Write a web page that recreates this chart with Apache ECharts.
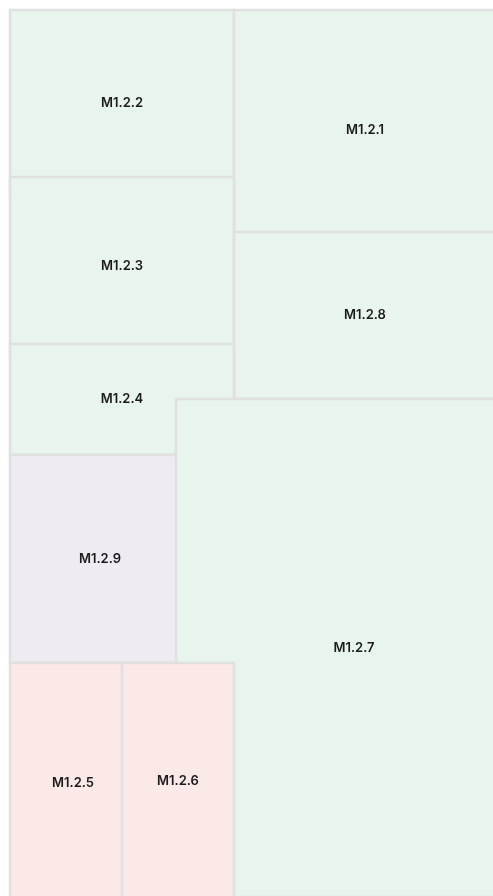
<!DOCTYPE html>
<html>
<head>
<meta charset="utf-8">
<script src="https://cdn.jsdelivr.net/npm/echarts@6/dist/echarts.min.js"></script>
<style>
html, body { margin: 0; padding: 0; background: #fff; }
#chart { width: 493px; height: 896px; }
</style>
</head>
<body>
<div id="chart"></div>
<script>
// cells, in drawing order (later ones lie on top)
const names = ['M1.2.2', 'M1.2.1', 'M1.2.3', 'M1.2.8', 'M1.2.4', 'M1.2.9', 'M1.2.7', 'M1.2.5', 'M1.2.6'];
const groups = ['g', 'g', 'g', 'g', 'g', 'p', 'g', 'r', 'r'];
// extents of each cell on the layout axes
const x0 = [0, 224, 0, 224, 0, 0, 166, 0, 112];
const x1 = [224, 486, 224, 486, 224, 180, 522, 126, 224];
const y0 = [0, 0, 167, 222, 334, 445, 389, 653, 653];
const y1 = [186, 240, 345, 389, 445, 653, 887, 893, 889];

const groupColors = { g: '#e7f5ec', p: '#f0ebf3', r: '#fae9e6' };

const cells = names.map((n, i) => ({ name: n, value: [x0[i], x1[i], y0[i], y1[i]], group: groups[i] }));

const chart = echarts.init(document.getElementById('chart'));
chart.setOption({
    animation: false,
    grid: { left: 10, top: 10, right: 0, bottom: 0 },
    xAxis: { type: 'value', min: 0, max: 483, show: false },
    yAxis: { type: 'value', min: 0, max: 886, inverse: true, show: false },
    series: [{
        type: 'custom',
        clip: false,
        data: cells,
        renderItem: function (params, api) {
            const p0 = api.coord([api.value(0), api.value(2)]);
            const p1 = api.coord([api.value(1), api.value(3)]);
            const c = cells[params.dataIndex];
            return {
                type: 'rect',
                shape: { x: p0[0], y: p0[1], width: p1[0] - p0[0], height: p1[1] - p0[1] },
                style: { fill: groupColors[c.group], stroke: '#e0e0e0', lineWidth: 2.5 },
                textContent: {
                    style: {
                        text: c.name,
                        fill: '#1a1a1a',
                        fontFamily: 'Inter',
                        fontWeight: 600,
                        fontSize: 13
                    }
                },
                textConfig: { position: 'inside' }
            };
        }
    }]
});
</script>
</body>
</html>
